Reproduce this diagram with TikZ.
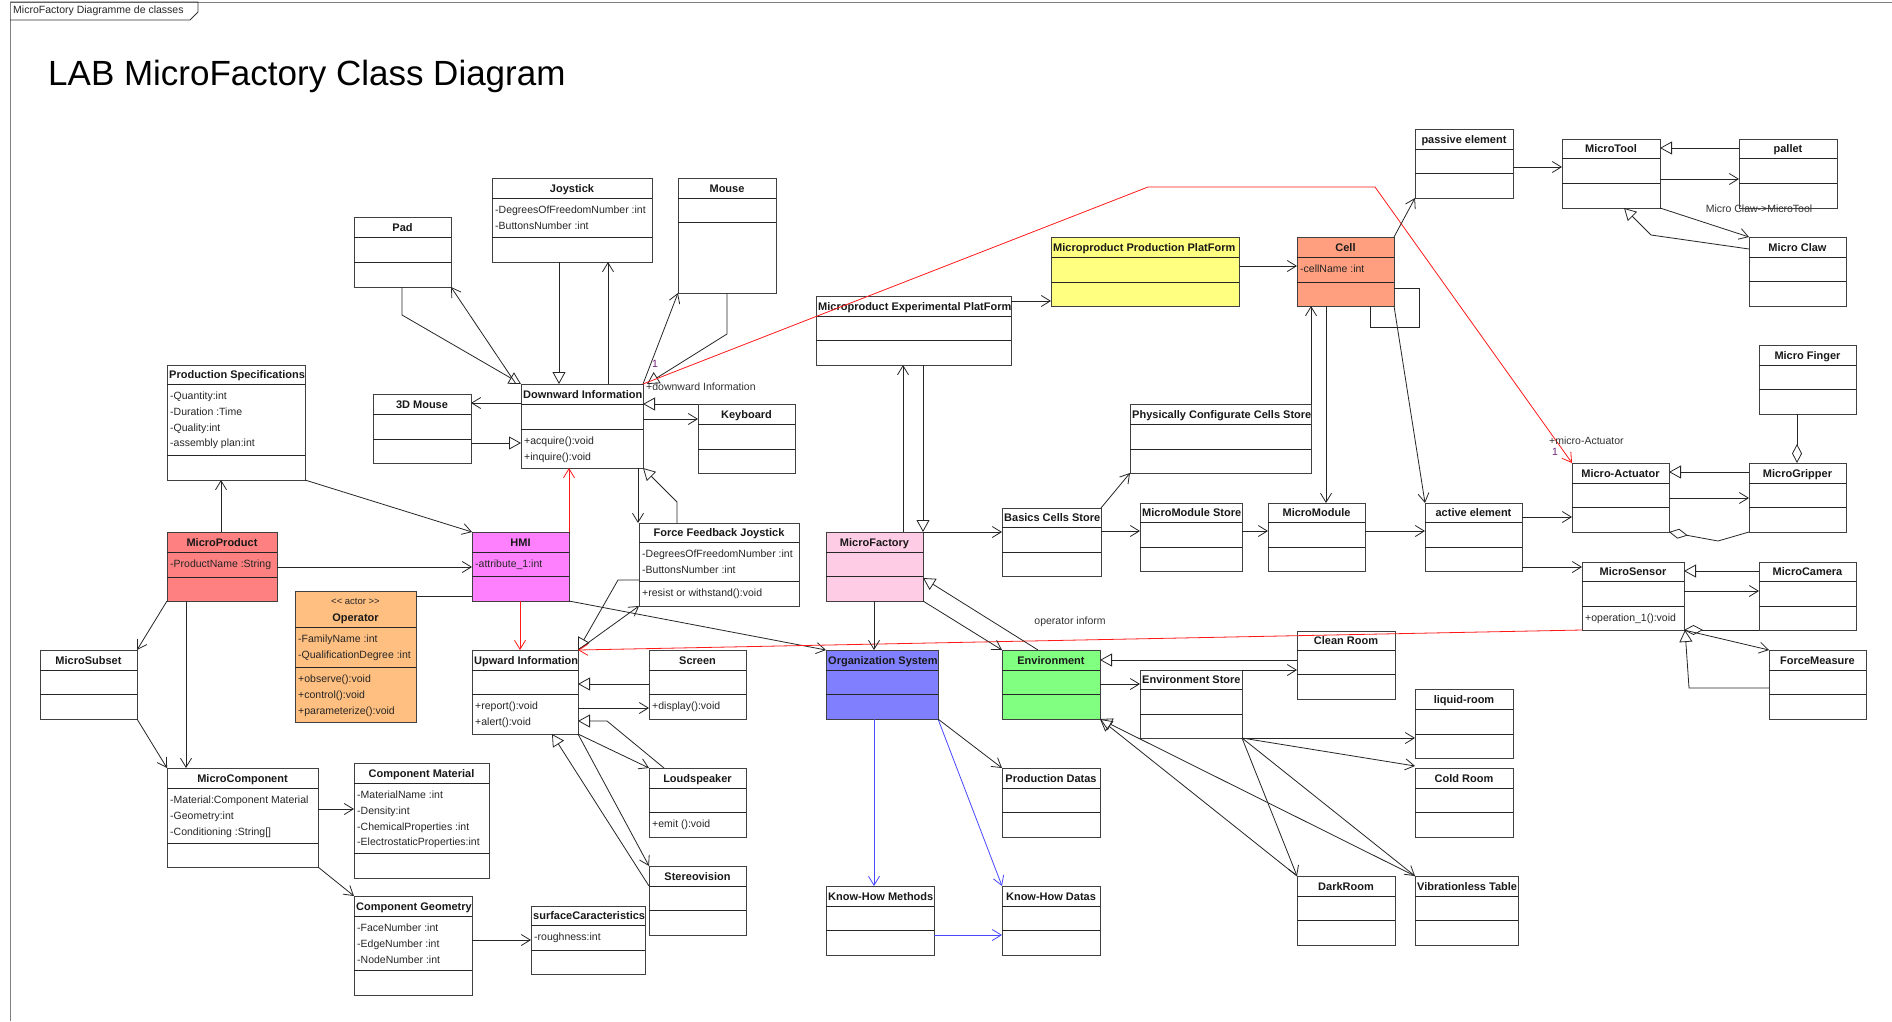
\documentclass[tikz,border=0pt]{standalone}
\usepackage{fontspec}
\setmainfont{Liberation Sans}
\usetikzlibrary{arrows.meta}

\definecolor{cMicroProduct}{HTML}{FF8080}
\definecolor{cHMI}{HTML}{FF80FF}
\definecolor{cOperator}{HTML}{FFBF80}
\definecolor{cMicroFactory}{HTML}{FFCCE5}
\definecolor{cOrg}{HTML}{8080FF}
\definecolor{cEnv}{HTML}{80FF80}
\definecolor{cMPP}{HTML}{FFFF80}
\definecolor{cCell}{HTML}{FF9F80}
\definecolor{frameGray}{HTML}{808080}
\definecolor{multPurple}{HTML}{70207A}
\definecolor{blueLink}{HTML}{4848FF}

\tikzset{
  classbox/.style={draw=black!75, line width=0.9pt, fill=white, inner sep=0pt, outer sep=0pt, rectangle},
  compline/.style={draw=black!85, line width=0.9pt},
  cname/.style={font=\fontsize{11}{13}\selectfont\bfseries, text=black!90, inner sep=0pt},
  stereo/.style={font=\fontsize{9.5}{11}\selectfont, text=black!85, inner sep=0pt},
  member/.style={font=\fontsize{10.5}{12}\selectfont, text=black!85, inner sep=0pt},
  lbl/.style={font=\fontsize{10.5}{12}\selectfont, text=black!80, inner sep=0pt},
  plainline/.style={draw=black!85, line width=0.8pt},
  assocarrow/.style={plainline, -{Straight Barb[length=9pt,width=11pt]}},
  genarrow/.style={plainline, -{Triangle[open,length=12pt,width=13pt]}},
  aggarrow/.style={plainline, -{Diamond[open,length=19pt,width=10pt]}},
  redassoc/.style={draw=red!90, line width=0.8pt, -{Straight Barb[length=9pt,width=11pt]}},
  bluearrow/.style={draw=blueLink, line width=0.8pt, -{Straight Barb[length=9pt,width=11pt]}},
}

% class rectangle with its two compartment separators
\newcommand\umlbox[8]{%
  \pgfmathsetmacro\clsW{#5-#3}\pgfmathsetmacro\clsH{#6-#4}%
  \node[classbox,#1,minimum width=\clsW pt,minimum height=\clsH pt,anchor=north west] (#2) at (#3,#4) {};
  \draw[compline] (#3,#7) -- (#5,#7) (#3,#8) -- (#5,#8);}
% class with centred name
\def\umlclass[#1]#2(#3,#4)(#5,#6)#7#8#9{%
  \umlbox{#1}{#2}{#3}{#4}{#5}{#6}{#7}{#8}%
  \pgfmathsetmacro\clsX{(#3+#5)/2}\pgfmathsetmacro\clsY{(#4+#7)/2+4}%
  \node[cname,anchor=base] at (\clsX,\clsY) {#9};}
% class with left-aligned name
\def\umlclassl[#1]#2(#3,#4)(#5,#6)#7#8#9{%
  \umlbox{#1}{#2}{#3}{#4}{#5}{#6}{#7}{#8}%
  \pgfmathsetmacro\clsY{(#4+#7)/2+4}%
  \node[cname,anchor=base west] at (#3+2,\clsY) {#9};}
% attribute / operation lines of a compartment
\newcommand\members[3]{%
  \foreach \m [count=\i from 0] in {#3}{%
    \node[member,anchor=base west] at (#1+3,#2+15.5+15.8*\i) {\m};}}

\begin{document}
\begin{tikzpicture}[x=1pt,y=-1pt]
\useasboundingbox (0,0) rectangle (1892,1021);
\fill[white] (0,0) rectangle (1892,1021);

% diagram frame and its name tab
\draw[frameGray, line width=1pt] (10,1021) -- (10,2) -- (1892,2);
\draw[black!80, line width=0.9pt] (10,2) -- (198,2) -- (198,12) -- (190,20) -- (10,20);
\node[lbl, text=black!85, anchor=west] (tab) at (13,11) {MicroFactory Diagramme de classes};
\node[font=\fontsize{35}{40}\selectfont, anchor=base west, inner sep=0pt] (title) at (48,85) {LAB MicroFactory Class Diagram};

% ---------------- classes ----------------
\umlclass[]{pad}(354,217)(451,287){237}{262}{Pad}
\umlclass[]{joy}(492,178)(652,262){198}{237}{Joystick}
\members{492}{198}{-DegreesOfFreedomNumber :int,-ButtonsNumber :int}
\umlclass[]{mouse}(678,178)(776,293){198}{222}{Mouse}
\umlclassl[]{di}(521,384)(643,468){404}{429}{Downward Information}
\members{521}{429}{+acquire():void,+inquire():void}
\umlclass[]{mthree}(373,394)(471,463){414}{439}{3D Mouse}
\umlclass[]{kbd}(698,404)(795,473){424}{449}{Keyboard}
\umlclassl[]{ps}(167,365)(305,480){384}{455}{Production Specifications}
\members{167}{384}{-Quantity:int,-Duration :Time,-Quality:int,-assembly plan:int}
\umlclass[fill=cMicroProduct]{mp}(167,532)(277,601){552}{577}{MicroProduct}
\members{167}{552}{-ProductName :String}

\umlbox{fill=cOperator}{op}{295}{591}{416}{722}{627}{667}
\node[stereo,anchor=base] at (355.5,604) {<{}< actor >{}>};
\node[cname,anchor=base] at (355.5,621) {Operator};
\members{295}{627}{-FamilyName :int,-QualificationDegree :int}
\members{295}{667}{+observe():void,+control():void,+parameterize():void}

\umlclass[]{msub}(40,650)(137,719){670}{694}{MicroSubset}
\umlclass[fill=cHMI]{hmi}(472,532)(569,601){552}{576}{HMI}
\members{472}{552}{-attribute\_1:int}
\umlclass[]{ffj}(639,523)(799,606){542}{581}{Force Feedback Joystick}
\members{639}{542}{-DegreesOfFreedomNumber :int,-ButtonsNumber :int}
\members{639}{581}{+resist or withstand():void}
\umlclass[fill=cMicroFactory]{mf}(826,532)(923,601){552}{576}{MicroFactory}
\umlclassl[]{ui}(472,650)(578,734){670}{694}{Upward Information}
\members{472}{694}{+report():void,+alert():void}
\umlclass[]{scr}(649,650)(746,719){670}{694}{Screen}
\members{649}{694}{+display():void}
\umlclassl[fill=cOrg]{os}(826,650)(938,719){670}{694}{Organization System}
\umlclass[]{ls}(649,768)(746,837){788}{812}{Loudspeaker}
\members{649}{812}{+emit ():void}
\umlclass[]{st}(649,866)(746,935){886}{910}{Stereovision}
\umlclassl[]{sc}(531,906)(645,974){925}{950}{surfaceCaracteristics}
\members{531}{925}{-roughness:int}
\umlclassl[]{khm}(826,886)(934,955){906}{930}{Know-How Methods}
\umlclass[]{mc}(167,768)(318,867){788}{843}{MicroComponent}
\members{167}{788}{-Material:Component Material,-Geometry:int,{-Conditioning :String[]}}
\umlclass[]{cm}(354,763)(489,878){783}{853}{Component Material}
\members{354}{783}{-MaterialName :int,-Density:int,-ChemicalProperties :int,-ElectrostaticProperties:int}
\umlclassl[]{cg}(354,896)(472,995){916}{970}{Component Geometry}
\members{354}{916}{-FaceNumber :int,-EdgeNumber :int,-NodeNumber :int}

\umlclassl[]{mep}(816,296)(1011,365){316}{340}{Microproduct Experimental PlatForm}
\umlclassl[fill=cMPP]{mpp}(1051,237)(1239,306){257}{282}{Microproduct Production PlatForm}
\umlclass[fill=cCell]{cell}(1297,237)(1394,306){257}{282}{Cell}
\members{1297}{257}{-cellName :int}
\umlclassl[]{pccs}(1130,404)(1311,473){424}{449}{Physically Configurate Cells Store}
\umlclassl[]{bcs}(1002,508)(1101,576){527}{552}{Basics Cells Store}
\umlclassl[]{mms}(1140,503)(1242,571){522}{547}{MicroModule Store}
\umlclass[]{mm}(1268,503)(1365,571){522}{547}{MicroModule}
\umlclass[]{ae}(1425,503)(1522,571){522}{547}{active element}
\umlclass[]{pe}(1415,129)(1513,198){149}{173}{passive element}
\umlclass[]{mt}(1562,139)(1660,208){158}{183}{MicroTool}
\umlclass[]{pal}(1739,139)(1837,208){158}{183}{pallet}
\umlclass[]{claw}(1749,237)(1846,306){257}{281}{Micro Claw}
\umlclass[]{mfin}(1759,345)(1856,414){365}{389}{Micro Finger}
\umlclass[]{mgrip}(1749,463)(1846,532){483}{507}{MicroGripper}
\umlclass[]{mact}(1572,463)(1669,532){483}{507}{Micro-Actuator}
\umlclass[]{msen}(1582,562)(1684,630){581}{606}{MicroSensor}
\members{1582}{606}{+operation\_1():void}
\umlclass[]{mcam}(1759,562)(1856,630){581}{606}{MicroCamera}
\umlclass[]{fm}(1769,650)(1866,719){670}{694}{ForceMeasure}

\umlclass[fill=cEnv]{env}(1002,650)(1100,719){670}{694}{Environment}
\umlclassl[]{envs}(1140,670)(1242,738){689}{714}{Environment Store}
\umlclass[]{cr}(1297,631)(1395,699){650}{674}{Clean Room}
\umlclass[]{lr}(1415,689)(1513,758){709}{734}{liquid-room}
\umlclass[]{cold}(1415,768)(1513,837){788}{812}{Cold Room}
\umlclass[]{dark}(1297,876)(1395,945){896}{920}{DarkRoom}
\umlclassl[]{vt}(1415,876)(1518,945){896}{920}{Vibrationless Table}
\umlclass[]{pd}(1002,768)(1100,837){788}{812}{Production Datas}
\umlclass[]{khd}(1002,886)(1100,955){906}{930}{Know-How Datas}

% ---------------- product side ----------------
\draw[assocarrow] (mp.north -| 221,0) -- (ps.south -| 221,0);
\draw[assocarrow] (ps.south east) -- (hmi.north west);
\draw[assocarrow] (mp.east |- 0,567) -- (hmi.west |- 0,567);
\draw[plainline] (op.east |- 0,596) -- (hmi.west |- 0,596);
\draw[assocarrow] (mp.south west) -- (msub.north east);
\draw[assocarrow] (mp.south -| 186,0) -- (mc.north -| 186,0);
\draw[assocarrow] (msub.south east) -- (mc.north west);
\draw[assocarrow] (mc.east |- 0,809) -- (cm.west |- 0,809);
\draw[assocarrow] (mc.south east) -- (cg.north west);
\draw[assocarrow] (cg.east |- 0,940) -- (sc.west |- 0,940);

% ---------------- input devices ----------------
\coordinate (padbend) at (402,315);
\draw[genarrow] (pad.south -| padbend) -- (padbend) -- (di.north west);
\draw[assocarrow] ([xshift=-5pt]di.north west) -- (pad.south east);
\draw[genarrow] (joy.south -| 559,0) -- (di.north -| 559,0);
\draw[assocarrow] (di.north -| 608,0) -- (joy.south -| 608,0);
\coordinate (mousebend) at (727,334);
\draw[genarrow] (mouse.south -| mousebend) -- (mousebend) -- ([xshift=4pt]di.north east);
\draw[assocarrow] (di.north east) -- (mouse.south west);
\draw[assocarrow] (di.west |- 0,403) -- (mthree.east |- 0,403);
\draw[genarrow] (mthree.east |- 0,443) -- (di.west |- 0,443);
\draw[genarrow] (kbd.north west) -- (di.east |- kbd.north west);
\draw[assocarrow] (di.east |- 0,419) -- (kbd.west |- 0,419);
\draw[assocarrow] (di.south -| 638,0) -- (ffj.north -| 638,0);
\coordinate (ffjbend) at (677,502);
\draw[genarrow] (ffj.north -| ffjbend) -- (ffjbend) -- (di.south east);
\draw[redassoc] (hmi.north east) -- (di.south -| hmi.north east);
\draw[redassoc] (hmi.south -| 520,0) -- (ui.north -| 520,0);
\draw[assocarrow] (hmi.south east) -- (os.north west);

% ---------------- output devices ----------------
\coordinate (ffjbend2) at (618,580);
\draw[genarrow] (ffj.west |- ffjbend2) -- (ffjbend2) -- (ui.north east);
\draw[assocarrow] (ui.north east) -- (ffj.south west);
\draw[genarrow] (scr.west |- 0,684) -- (ui.east |- 0,684);
\draw[assocarrow] (ui.east |- 0,708) -- (scr.west |- 0,708);
\coordinate (lsbend) at (607,721);
\draw[genarrow] (ls.north -| 664,0) -- (lsbend) -- (ui.east |- lsbend);
\draw[assocarrow] (ui.south east) -- (ls.north west);
\draw[assocarrow] (ui.south east) -- (st.north west);
\draw[genarrow] (st.west |- 0,886) -- (ui.south -| 552,0);

% ---------------- red associations ----------------
\coordinate (rb1) at (1148,187);
\coordinate (rb2) at (1375,187);
\draw[redassoc] (di.north east) -- (rb1) -- (rb2) -- (mact.north west);
\draw[redassoc] (msen.south west) -- (ui.north east);
\node[lbl, text=multPurple] (m1) at (655,364) {1};
\node[lbl, anchor=west] (r1) at (646,387) {+downward Information};
\node[lbl, anchor=west] (r2) at (1549,441) {+micro-Actuator};
\node[lbl, text=multPurple] (m2) at (1555,452) {1};
\node[lbl] (opinf) at (1070,622) {operator inform};

% ---------------- factory ----------------
\draw[assocarrow] (mf.north -| 903,0) -- (mep.south -| 903,0);
\draw[genarrow] (mep.south -| mf.north east) -- (mf.north east);
\draw[assocarrow] (mf.north east) -- (bcs.west |- mf.north east);
\draw[assocarrow] (mf.south -| 874,0) -- (os.north -| 874,0);
\draw[assocarrow] (mf.south east) -- (env.north west);
\draw[genarrow] (env.north -| 1038,0) -- (mf.east |- 0,578);
\draw[assocarrow] (mep.east |- 0,301) -- (mpp.west |- 0,301);
\draw[assocarrow] (mpp.east |- 0,266) -- (cell.west |- 0,266);
\draw[plainline] (cell.east |- 0,288) -- (1419,288) -- (1419,327) -- (1370,327) -- (cell.south -| 1370,0);
\draw[assocarrow] (pccs.north east) -- (cell.south -| pccs.north east);
\draw[assocarrow] (bcs.north east) -- (pccs.south west);
\draw[assocarrow] (cell.south -| 1326,0) -- (mm.north -| 1326,0);
\draw[assocarrow] (bcs.east |- 0,531) -- (mms.west |- 0,531);
\draw[assocarrow] (mms.east |- 0,531) -- (mm.west |- 0,531);
\draw[assocarrow] (mm.east |- 0,531) -- (ae.west |- 0,531);
\draw[assocarrow] (cell.south east) -- (ae.north west);
\draw[assocarrow] (cell.north east) -- (pe.south west);

% ---------------- tools and actuators ----------------
\draw[assocarrow] (pe.east |- 0,167) -- (mt.west |- 0,167);
\draw[genarrow] (pal.west |- 0,148) -- (mt.east |- 0,148);
\draw[assocarrow] (mt.east |- 0,179) -- (pal.west |- 0,179);
\draw[assocarrow] (mt.south east) -- (claw.north west);
\node[lbl] (clawlbl) at (1759,209) {Micro Claw->MicroTool};
\coordinate (clawbend) at (1651,235);
\draw[genarrow] (claw.west |- 0,249) -- (clawbend) -- (mt.south -| 1624,0);
\draw[aggarrow] (mfin.south -| 1797,0) -- (mgrip.north -| 1797,0);
\draw[genarrow] (mgrip.west |- 0,472) -- (mact.east |- 0,472);
\draw[assocarrow] (mact.east |- 0,498) -- (mgrip.west |- 0,498);
\coordinate (gripbend) at (1718,541);
\draw[aggarrow] (mgrip.south west) -- (gripbend) -- (mact.south east);
\draw[assocarrow] (ae.east |- 0,517) -- (mact.west |- 0,517);
\draw[assocarrow] (ae.east |- 0,567) -- (msen.west |- 0,567);
\draw[genarrow] (mcam.west |- 0,571) -- (msen.east |- 0,571);
\draw[assocarrow] (msen.east |- 0,591) -- (mcam.west |- 0,591);
\draw[aggarrow] (mcam.south west) -- (msen.south east);
\draw[assocarrow] (msen.south east) -- (fm.north west);
\coordinate (fmbend) at (1689,688);
\draw[genarrow] (fm.west |- fmbend) -- (fmbend) -- (msen.south -| 1685,0);

% ---------------- environment ----------------
\draw[assocarrow] (env.east |- 0,684) -- (envs.west |- 0,684);
\draw[genarrow] (cr.west |- 0,660) -- (env.east |- 0,660);
\draw[assocarrow] (envs.north east) -- (cr.west |- envs.north east);
\draw[assocarrow] (envs.south east) -- (lr.west |- envs.south east);
\draw[assocarrow] (envs.south east) -- (cold.west |- 0,766);
\draw[assocarrow] (envs.south east) -- (dark.north west);
\draw[assocarrow] (envs.south east) -- (vt.north west);
\draw[genarrow] (dark.north west) -- (env.south east);
\draw[genarrow] (vt.north west) -- (env.south east);

% ---------------- organization ----------------
\draw[bluearrow] (os.south -| 874,0) -- (khm.north -| 874,0);
\draw[bluearrow] (os.south east) -- (khd.north west);
\draw[assocarrow] (os.south east) -- (pd.north west);
\draw[bluearrow] (khm.east |- 0,935) -- (khd.west |- 0,935);
\end{tikzpicture}
\end{document}
